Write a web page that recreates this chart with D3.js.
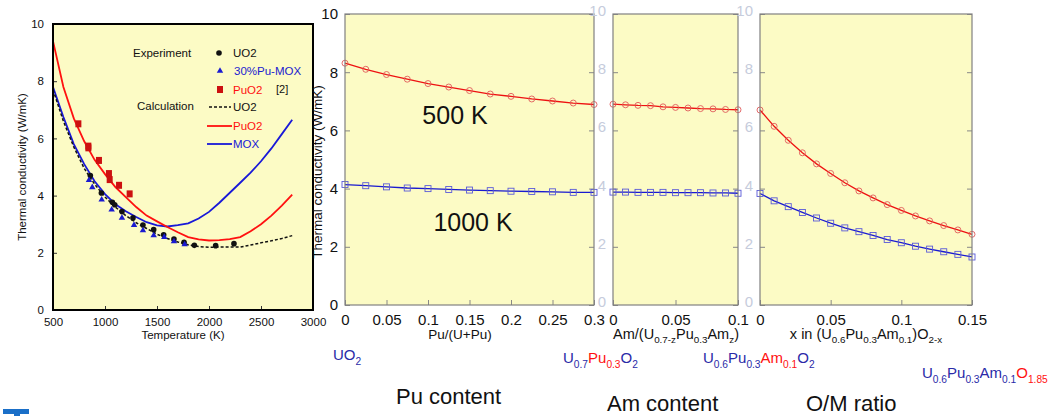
<!DOCTYPE html>
<html><head><meta charset="utf-8">
<script src="https://cdn.jsdelivr.net/npm/d3@7"></script>
<style>
html,body{margin:0;padding:0;background:#fff;}
svg{display:block;font-family:"Liberation Sans",Arial,Helvetica,sans-serif;}
</style></head>
<body><svg id="c" width="1056" height="416"></svg>
<script>
// ---------- Data ----------
// Left chart: thermal conductivity vs temperature
const calcT = [500,600,700,800,900,1000,1100,1200,1300,1400,1500,1600,1700,1800,1900,2000,2100,2200,2300,2400,2500,2600,2700,2800];
const calcUO2 = [7.7,6.6,5.7,4.95,4.4,3.95,3.6,3.3,3.05,2.85,2.65,2.5,2.38,2.28,2.22,2.19,2.2,2.2,2.2,2.27,2.35,2.42,2.5,2.6];
const calcPuO2 = [9.4,7.8,6.7,5.9,5.25,4.75,4.3,3.95,3.6,3.3,3.1,2.9,2.72,2.55,2.47,2.43,2.44,2.48,2.55,2.75,3.0,3.3,3.65,4.03];
const calcMOX = [7.8,6.75,5.8,5.1,4.5,4.05,3.7,3.45,3.25,3.07,2.96,2.92,2.97,3.03,3.2,3.43,3.75,4.1,4.45,4.8,5.2,5.65,6.15,6.65];
const expUO2T = [859,965,1071,1093,1163,1269,1365,1468,1564,1663,1760,1859,2064,2240];
const expUO2K = [4.70,4.09,3.77,3.68,3.44,3.22,2.97,2.81,2.63,2.48,2.37,2.26,2.25,2.32];
const expMOXT = [846,878,968,1064,1163,1279,1365,1468,1570,1663,1766];
const expMOXK = [4.54,4.29,3.86,3.51,3.22,2.97,2.78,2.61,2.55,2.40,2.29];
const expPuO2T = [744,840,840,942,1038,1045,1135,1237];
const expPuO2K = [6.51,5.73,5.67,5.23,4.77,4.56,4.36,4.06];
const tempTicks = [500,1000,1500,2000,2500,3000];
const condTicks = [0,2,4,6,8,10];

// Panel 1: Pu content
const puX = [0,0.025,0.05,0.075,0.1,0.125,0.15,0.175,0.2,0.225,0.25,0.275,0.3];
const pu500 = [8.31,8.10,7.92,7.76,7.61,7.49,7.37,7.25,7.17,7.08,7.01,6.94,6.89];
const pu1000 = [4.14,4.10,4.06,4.02,4.00,3.97,3.95,3.93,3.91,3.90,3.89,3.87,3.87];
const puTicks = [0,0.05,0.1,0.15,0.2,0.25,0.3];
// Panel 2: Am content
const amX = [0,0.01,0.02,0.03,0.04,0.05,0.06,0.07,0.08,0.09,0.1];
const am500 = [6.90,6.88,6.86,6.85,6.81,6.79,6.77,6.75,6.74,6.72,6.71];
const am1000 = [3.88,3.88,3.87,3.87,3.87,3.86,3.86,3.86,3.85,3.85,3.84];
const amTicks = [0,0.05,0.1];
// Panel 3: O/M ratio
const omX = [0,0.01,0.02,0.03,0.04,0.05,0.06,0.07,0.08,0.09,0.1,0.11,0.12,0.13,0.14,0.15];
const om500 = [6.70,6.14,5.66,5.23,4.85,4.52,4.20,3.92,3.68,3.45,3.25,3.06,2.89,2.73,2.58,2.43];
const om1000 = [3.83,3.58,3.38,3.18,2.99,2.81,2.65,2.52,2.39,2.25,2.14,2.02,1.92,1.83,1.74,1.65];
const omTicks = [0,0.05,0.1,0.15];

// ---------- Drawing ----------
const svg = d3.select("#c");
const YEL = "#fcfbc5";
const RED = "#ff1010", BLUE = "#1818d8", DBLUE = "#2a2aa8";

// ===== Left chart =====
const lx = d3.scaleLinear().domain([500,3000]).range([53,313]);
const ly = d3.scaleLinear().domain([0,10]).range([310,24]);
const L = svg.append("g");
L.append("rect").attr("x",lx(500)).attr("y",ly(10)).attr("width",lx(3000)-lx(500)).attr("height",ly(0)-ly(10)).attr("fill",YEL);
L.append("g").attr("transform",`translate(0,${ly(0)})`)
  .call(d3.axisBottom(lx).tickValues(tempTicks).tickSize(-4).tickPadding(8).tickFormat(d3.format("d")))
  .call(g=>{g.select(".domain").remove();g.selectAll("line").attr("stroke","#333");g.selectAll("text").attr("font-size",11.5).attr("fill","#111").attr("font-family",null);});
L.append("g").attr("transform",`translate(${lx(500)},0)`)
  .call(d3.axisLeft(ly).tickValues(condTicks).tickSize(-4).tickPadding(9))
  .call(g=>{g.select(".domain").remove();g.selectAll("line").attr("stroke","#333");g.selectAll("text").attr("font-size",11.5).attr("fill","#111").attr("font-family",null);});
const line = (xs,ys,sx,sy)=>d3.line().x((d,i)=>sx(xs[i])).y((d,i)=>sy(ys[i]))(ys);
L.append("path").attr("d",line(calcT,calcMOX,lx,ly)).attr("fill","none").attr("stroke",BLUE).attr("stroke-width",1.8);
L.append("path").attr("d",line(calcT,calcPuO2,lx,ly)).attr("fill","none").attr("stroke",RED).attr("stroke-width",1.8);
L.append("path").attr("d",line(calcT,calcUO2,lx,ly)).attr("fill","none").attr("stroke","#111").attr("stroke-width",1.5).attr("stroke-dasharray","3,2");
expPuO2T.forEach((t,i)=>L.append("rect").attr("x",lx(t)-3).attr("y",ly(expPuO2K[i])-3.5).attr("width",6).attr("height",7).attr("fill","#cc1010"));
expUO2T.forEach((t,i)=>L.append("circle").attr("cx",lx(t)).attr("cy",ly(expUO2K[i])).attr("r",2.8).attr("fill","#111"));
const tri = d3.symbol().type(d3.symbolTriangle).size(18);
expMOXT.forEach((t,i)=>L.append("path").attr("d",tri()).attr("transform",`translate(${lx(t)},${ly(expMOXK[i])})`).attr("fill","#1a1ad0"));
L.append("rect").attr("x",lx(500)).attr("y",ly(10)).attr("width",lx(3000)-lx(500)).attr("height",ly(0)-ly(10)).attr("fill","none").attr("stroke","#000").attr("stroke-width",2);
const lg = L.append("g").attr("font-size",11.5);
lg.append("text").attr("x",133).attr("y",57).text("Experiment").attr("fill","#111");
lg.append("circle").attr("cx",219).attr("cy",53).attr("r",2.8).attr("fill","#111");
lg.append("text").attr("x",233).attr("y",57).text("UO2").attr("fill","#111");
lg.append("path").attr("d",tri()).attr("transform","translate(220,71)").attr("fill","#1a1ad0");
lg.append("text").attr("x",234).attr("y",75).text("30%Pu-MOX").attr("fill","#2020d0");
lg.append("rect").attr("x",217).attr("y",86).attr("width",6).attr("height",7).attr("fill","#cc1010");
lg.append("text").attr("x",233).attr("y",94).text("PuO2").attr("fill",RED);
lg.append("text").attr("x",276).attr("y",93).text("[2]").attr("fill","#111").attr("font-size",11);
lg.append("text").attr("x",137).attr("y",110).text("Calculation").attr("fill","#111");
lg.append("line").attr("x1",209).attr("x2",231).attr("y1",107).attr("y2",107).attr("stroke","#111").attr("stroke-width",1.5).attr("stroke-dasharray","3,2");
lg.append("text").attr("x",233).attr("y",111).text("UO2").attr("fill","#111");
lg.append("line").attr("x1",207).attr("x2",232).attr("y1",126).attr("y2",126).attr("stroke",RED).attr("stroke-width",1.8);
lg.append("text").attr("x",233).attr("y",130).text("PuO2").attr("fill",RED);
lg.append("line").attr("x1",207).attr("x2",232).attr("y1",144).attr("y2",144).attr("stroke",BLUE).attr("stroke-width",1.8);
lg.append("text").attr("x",233).attr("y",148).text("MOX").attr("fill",BLUE);
L.append("text").attr("transform","translate(26,167) rotate(-90)").attr("text-anchor","middle").attr("font-size",11.5).attr("fill","#111").text("Thermal conductivity (W/mK)");
L.append("text").attr("x",183).attr("y",339).attr("text-anchor","middle").attr("font-size",11.5).attr("fill","#111").text("Temperature (K)");

// ===== Right panels =====
const py = d3.scaleLinear().domain([0,10]).range([305,14]);
function panel(xs, v500, v1000, domain, range, ticks, tickColor, fmt, shiftUp){
  const sx = d3.scaleLinear().domain(domain).range(range);
  const g = svg.append("g");
  g.append("rect").attr("x",range[0]).attr("y",py(10)).attr("width",range[1]-range[0]).attr("height",py(0)-py(10)).attr("fill",YEL);
  g.append("g").attr("transform",`translate(0,${py(0)})`)
    .call(d3.axisBottom(sx).tickValues(ticks).tickSize(-5).tickPadding(9).tickFormat(fmt))
    .call(a=>{a.select(".domain").remove();a.selectAll("line").attr("stroke","#888");a.selectAll("text").attr("font-size",15).attr("fill","#111").attr("font-family",null);});
  g.append("g").attr("transform",`translate(${range[0]},0)`)
    .call(d3.axisLeft(py).tickValues(condTicks).tickSize(-5).tickPadding(7))
    .call(a=>{a.select(".domain").remove();a.selectAll("line").attr("stroke","#888");
      a.selectAll("text").attr("font-size",15).attr("fill",tickColor).attr("font-family",null)
       .attr("dy", shiftUp ? "0.1em" : "0.32em");});
  g.append("g").attr("transform",`translate(${range[1]},0)`)
    .call(d3.axisRight(py).tickValues(condTicks).tickSize(-5).tickFormat(""))
    .call(a=>{a.select(".domain").remove();a.selectAll("line").attr("stroke","#888");});
  g.append("path").attr("d",line(xs,v500,sx,py)).attr("fill","none").attr("stroke","#ee1111").attr("stroke-width",1.3);
  g.append("path").attr("d",line(xs,v1000,sx,py)).attr("fill","none").attr("stroke","#1a1ad0").attr("stroke-width",1.3);
  xs.forEach((x,i)=>g.append("circle").attr("cx",sx(x)).attr("cy",py(v500[i])).attr("r",3).attr("fill","none").attr("stroke","#e05a5a").attr("stroke-width",0.9));
  xs.forEach((x,i)=>g.append("rect").attr("x",sx(x)-3).attr("y",py(v1000[i])-3).attr("width",6).attr("height",6).attr("fill","none").attr("stroke","#5a5ad8").attr("stroke-width",0.9));
  g.append("rect").attr("x",range[0]).attr("y",py(10)).attr("width",range[1]-range[0]).attr("height",py(0)-py(10)).attr("fill","none").attr("stroke","#808080").attr("stroke-width",1.2);
  return sx;
}
const f0 = d=> d===0 ? "0" : String(d);
panel(puX,pu500,pu1000,[0,0.3],[345,594],puTicks,"#111",f0,false);
panel(amX,am500,am1000,[0,0.1],[613,738],amTicks,"#c6ccdc",f0,true);
panel(omX,om500,om1000,[0,0.15],[760,972],omTicks,"#c6ccdc",f0,true);

svg.append("text").attr("transform","translate(322,172) rotate(-90)").attr("text-anchor","middle").attr("font-size",13.5).attr("fill","#111").text("Thermal conductivity (W/mK)");
svg.append("text").attr("x",460).attr("y",339).attr("text-anchor","middle").attr("font-size",13.5).attr("fill","#111").text("Pu/(U+Pu)");
svg.append("text").attr("x",455).attr("y",124).attr("text-anchor","middle").attr("font-size",25).attr("fill","#111").text("500 K");
svg.append("text").attr("x",473).attr("y",231).attr("text-anchor","middle").attr("font-size",25).attr("fill","#111").text("1000 K");

function rich(x,y,parts,size,anchor){
  const t = svg.append("text").attr("x",x).attr("y",y).attr("font-size",size).attr("text-anchor",anchor||"start");
  let down = false;
  parts.forEach(p=>{
    const s = t.append("tspan").text(p[0]).attr("fill",p[1]||"#111");
    if(p[2] && !down){ s.attr("dy",size*0.3).attr("font-size",size*0.68); down=true; }
    else if(p[2]){ s.attr("font-size",size*0.68); }
    else if(!p[2] && down){ s.attr("dy",-size*0.3); down=false; }
  });
  return t;
}
rich(676,339,[["Am/(U"],["0.7-z","#111",1],["Pu"],["0.3","#111",1],["Am"],["z","#111",1],[")"]],14.5,"middle");
rich(866,339,[["x in (U"],["0.6","#111",1],["Pu"],["0.3","#111",1],["Am"],["0.1","#111",1],[")O"],["2-x","#111",1]],14.5,"middle");

rich(333,360,[["UO",DBLUE],["2",DBLUE,1]],15);
rich(563,363,[["U",DBLUE],["0.7",DBLUE,1],["Pu",RED],["0.3",RED,1],["O",DBLUE],["2",DBLUE,1]],15);
rich(703,363,[["U",DBLUE],["0.6",DBLUE,1],["Pu",DBLUE],["0.3",DBLUE,1],["Am",RED],["0.1",RED,1],["O",DBLUE],["2",DBLUE,1]],15);
rich(922,378,[["U",DBLUE],["0.6",DBLUE,1],["Pu",DBLUE],["0.3",DBLUE,1],["Am",DBLUE],["0.1",DBLUE,1],["O",RED],["1.85",RED,1]],15);

svg.append("text").attr("x",396).attr("y",404).attr("font-size",22).attr("fill","#111").text("Pu content");
svg.append("text").attr("x",607).attr("y",411).attr("font-size",22).attr("fill","#111").text("Am content");
svg.append("text").attr("x",806).attr("y",411).attr("font-size",22).attr("fill","#111").text("O/M ratio");

svg.append("rect").attr("x",3).attr("y",409).attr("width",26).attr("height",5).attr("fill","#1a6fc8");
svg.append("rect").attr("x",14).attr("y",413).attr("width",6).attr("height",3).attr("fill","#1a6fc8");
</script></body></html>
